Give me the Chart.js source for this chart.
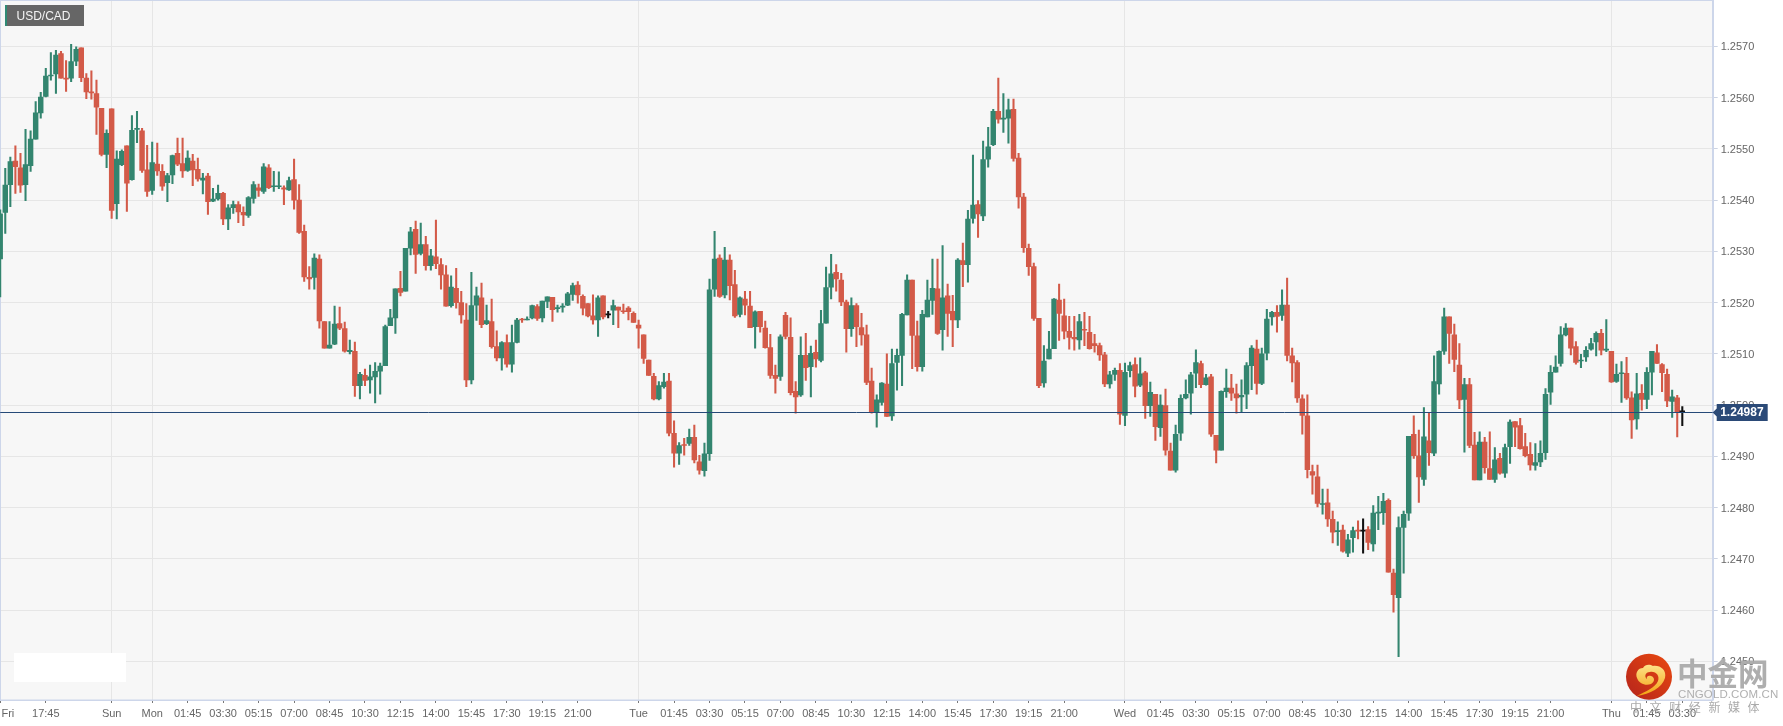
<!DOCTYPE html>
<html><head><meta charset="utf-8">
<script src="https://cdn.jsdelivr.net/npm/chart.js@4"></script>
<style>
html,body{margin:0;padding:0;background:#fff;overflow:hidden;width:1783px;height:726px}
#c{position:absolute;left:-20px;top:-20px}
.o{position:absolute;white-space:nowrap}
</style></head><body>
<canvas id="c" width="1803" height="746"></canvas>
<div class="o" style="left:5px;top:5px;width:79px;height:21px;background:#666;box-sizing:border-box;border-left:2px solid #2f8a74"></div>
<div class="o" style="left:16.5px;top:5px;line-height:23px;color:#f4f4f4;font:12px/23px 'Liberation Sans'">USD/CAD</div>
<div class="o" style="left:14px;top:653px;width:112px;height:29px;background:#fff"></div>
<svg class="o" style="left:1620px;top:645px" width="60" height="60" viewBox="1620 645 60 60">
<defs><linearGradient id="g1" x1="1" y1="0" x2="0" y2="1"><stop offset="0" stop-color="#ea4a10"/><stop offset="1" stop-color="#b4231c"/></linearGradient>
<linearGradient id="g2" x1="0" y1="0" x2="0" y2="1"><stop offset="0" stop-color="#fde48a"/><stop offset="1" stop-color="#f4a010"/></linearGradient></defs>
<circle cx="1649" cy="676.7" r="23" fill="url(#g1)"/>
<path d="M1637 696C1650 694 1662 688 1665 678C1667 670 1660 665 1653 666C1650 664 1645 664 1643 668C1638 668 1635 673 1637 678C1639 684 1646 686 1651 684C1655 682 1655 677 1651 676C1648 675 1646 677 1647 679C1644 677 1645 672 1650 672C1656 671 1660 676 1658 681C1655 688 1646 691 1637 696Z" fill="url(#g2)"/>
</svg>
<div class="o" style="left:1677px;top:652px;color:#aaa;font:bold 30.5px/40px 'Noto Sans CJK SC';opacity:.95">中金网</div>
<div class="o" style="left:1678px;top:688px;color:#b0b0b0;font:11.5px/12px 'Liberation Sans';letter-spacing:.1px">CNGOLD.COM.CN</div>
<div class="o" style="left:1630px;top:699px;color:#aaa;font:12px/16px 'Noto Sans CJK SC';letter-spacing:7.6px">中文财经新媒体</div>
<script>
const opens=[1.25285,1.25376,1.2543,1.25476,1.25463,1.2543,1.25467,1.25519,1.2557,1.25602,
1.25642,1.25646,1.25686,1.25638,1.25638,1.25671,1.25697,1.25638,1.25611,1.25608,
1.25579,1.25489,1.25578,1.25393,1.25469,1.25506,1.2544,1.25538,1.25535,1.25459,
1.25419,1.2547,1.25456,1.25434,1.25449,1.25491,1.25471,1.25458,1.25476,1.2546,
1.25439,1.25447,1.25398,1.25402,1.25413,1.25363,1.25385,1.25391,1.25376,1.2537,
1.25403,1.25424,1.25417,1.25463,1.25426,1.25426,1.25424,1.2542,1.2544,1.254,
1.25339,1.25249,1.25249,1.25285,1.25163,1.25111,1.25119,1.25159,1.25149,1.25104,
1.25105,1.25038,1.25058,1.25049,1.25055,1.25066,1.25077,1.25155,1.2517,1.25228,
1.25222,1.25306,1.25343,1.25296,1.25313,1.25272,1.25289,1.25274,1.25254,1.25194,
1.25228,1.252,1.25166,1.25049,1.25195,1.25209,1.25159,1.25163,1.25114,1.25092,
1.25122,1.2508,1.25122,1.25168,1.25166,1.2517,1.25192,1.2517,1.25202,1.2521,
1.25188,1.25191,1.25195,1.25216,1.25234,1.25212,1.25198,1.25174,1.25166,1.25213,
1.25176,1.25185,1.25191,1.25183,1.25189,1.25179,1.25156,1.25137,1.25088,1.25056,
1.25012,1.25036,1.25047,1.24945,1.24906,1.24923,1.24925,1.24937,1.24889,1.24872,
1.24905,1.25226,1.25287,1.25215,1.25283,1.25235,1.25177,1.25207,1.25193,1.25153,
1.25183,1.2515,1.25112,1.25058,1.25056,1.25175,1.25132,1.25027,1.2502,1.25097,
1.25075,1.25103,1.25087,1.2516,1.2523,1.25259,1.25244,1.25201,1.25149,1.25194,
1.25151,1.25137,1.25047,1.24986,1.25005,1.25041,1.24979,1.25083,1.25097,1.25176,
1.25244,1.25135,1.25075,1.25172,1.25204,1.25227,1.25147,1.25213,1.25183,1.25166,
1.25282,1.25274,1.25364,1.25391,1.25369,1.2548,1.25508,1.25573,1.25558,1.2556,
1.25577,1.25482,1.25406,1.25306,1.2527,1.25169,1.25043,1.2509,1.2511,1.25205,
1.25174,1.25144,1.25132,1.25127,1.25147,1.25142,1.2512,1.25116,1.25098,1.25041,
1.2506,1.25068,1.2498,1.25067,1.25079,1.25039,1.25063,1.24999,1.25021,1.24956,
1.24999,1.2491,1.24873,1.24945,1.25014,1.25023,1.25062,1.25081,1.2504,1.25055,
1.24941,1.24912,1.25026,1.25033,1.25022,1.25016,1.25021,1.25077,1.25109,1.25042,
1.25101,1.25172,1.25181,1.25175,1.25195,1.25096,1.25083,1.25012,1.24979,1.2487,
1.2486,1.24806,1.24809,1.24777,1.24753,1.24756,1.24711,1.24741,1.24756,1.24754,
1.24757,1.24729,1.24789,1.2479,1.24814,1.24672,1.24624,1.24761,1.24789,1.24943,
1.24901,1.24855,1.2493,1.24906,1.25041,1.25105,1.25172,1.25137,1.25078,1.25011,
1.2504,1.24922,1.24854,1.24928,1.24876,1.24855,1.24896,1.24867,1.24919,1.24968,
1.2496,1.24919,1.24904,1.24882,1.24889,1.24907,1.25025,1.25064,1.25081,1.25137,
1.2515,1.25114,1.25086,1.25094,1.25109,1.25123,1.2514,1.25107,1.25105,1.25046,
1.25061,1.25062,1.25014,1.24973,1.25023,1.25011,1.25064,1.25102,1.25079,1.2506,
1.25007,1.25014,1.24987];
const highs=[1.25381,1.25462,1.25484,1.25506,1.25491,1.25538,1.25535,1.25592,1.2561,1.25657,
1.25688,1.25692,1.2569,1.25672,1.25704,1.25699,1.25697,1.25647,1.25652,1.25634,
1.25579,1.25537,1.25578,1.25496,1.25498,1.25506,1.25565,1.25573,1.2554,1.25507,
1.25513,1.25511,1.25469,1.25452,1.25488,1.25521,1.25521,1.25496,1.25489,1.25482,
1.25452,1.25452,1.25423,1.25429,1.25415,1.25391,1.25398,1.25397,1.25387,1.25407,
1.25436,1.25431,1.25471,1.25469,1.25456,1.25455,1.25428,1.25445,1.2548,1.2543,
1.25351,1.2527,1.25295,1.25293,1.25163,1.25163,1.25193,1.25191,1.25162,1.25127,
1.25123,1.25064,1.2507,1.25078,1.25083,1.25082,1.25156,1.25187,1.25227,1.25261,
1.25306,1.25347,1.25359,1.25355,1.25329,1.25304,1.25361,1.25286,1.25272,1.25252,
1.25267,1.25222,1.25198,1.25259,1.2523,1.25238,1.25195,1.25207,1.25145,1.25124,
1.25137,1.25156,1.25169,1.25169,1.25172,1.25195,1.25196,1.25203,1.25211,1.2521,
1.25195,1.25198,1.2522,1.25238,1.25241,1.25215,1.25198,1.25215,1.25213,1.25213,
1.25183,1.25205,1.25191,1.25197,1.25192,1.25182,1.25166,1.25137,1.25088,1.25062,
1.25046,1.25062,1.25062,1.24969,1.24927,1.24935,1.24953,1.24961,1.24902,1.24926,
1.25246,1.25339,1.25293,1.25308,1.25293,1.25263,1.25211,1.25222,1.25222,1.25184,
1.25183,1.25164,1.25138,1.25078,1.25137,1.25181,1.2517,1.25046,1.25133,1.2514,
1.25115,1.25127,1.25185,1.25269,1.25294,1.25274,1.25257,1.25205,1.25209,1.25198,
1.25179,1.25156,1.25072,1.2502,1.25044,1.251,1.25109,1.25109,1.25179,1.25254,
1.25244,1.25164,1.25185,1.25244,1.25285,1.25285,1.25311,1.25236,1.25214,1.25286,
1.25316,1.2538,1.25488,1.25399,1.25515,1.25542,1.25577,1.25638,1.25608,1.25597,
1.25597,1.25491,1.25413,1.25314,1.25277,1.25169,1.25116,1.25144,1.25208,1.25236,
1.25207,1.25173,1.25173,1.25177,1.25181,1.25173,1.25138,1.25121,1.25103,1.25066,
1.25072,1.25081,1.25082,1.25084,1.25092,1.25092,1.25066,1.25045,1.25021,1.2502,
1.25031,1.24926,1.24961,1.2502,1.25049,1.25064,1.25108,1.25086,1.2506,1.2506,
1.24941,1.25028,1.2507,1.2506,1.25041,1.25049,1.25083,1.25116,1.25127,1.25111,
1.25187,1.25183,1.25194,1.25225,1.25248,1.25111,1.25087,1.2502,1.2502,1.24883,
1.24883,1.24836,1.24836,1.24793,1.24772,1.24766,1.24748,1.24762,1.24774,1.24778,
1.24763,1.24804,1.24822,1.24828,1.24817,1.2468,1.24782,1.24793,1.24939,1.24979,
1.24951,1.24995,1.24985,1.25096,1.25106,1.25189,1.25172,1.25158,1.2512,1.25052,
1.25052,1.24947,1.24948,1.24937,1.24948,1.24917,1.24906,1.24924,1.24971,1.24968,
1.24974,1.24945,1.24927,1.24925,1.2493,1.25032,1.25077,1.25096,1.25153,1.25159,
1.2515,1.25124,1.25099,1.25114,1.2513,1.25143,1.25148,1.25167,1.25105,1.2508,
1.25085,1.25093,1.25026,1.25062,1.2504,1.25073,1.25105,1.25118,1.25081,1.2507,
1.25029,1.25019,1.24997];
const lows=[1.25211,1.25335,1.25387,1.25413,1.25415,1.25399,1.25456,1.25519,1.2556,1.25601,
1.25634,1.25608,1.25638,1.25612,1.25631,1.25662,1.25631,1.25598,1.25597,1.25528,
1.25486,1.25463,1.25364,1.25363,1.25467,1.25378,1.25439,1.25512,1.25454,1.25407,
1.25411,1.25448,1.25419,1.25397,1.25432,1.25467,1.25444,1.25456,1.25428,1.25437,
1.25412,1.25372,1.25397,1.254,1.25352,1.25342,1.25374,1.25356,1.2535,1.25366,
1.25394,1.25407,1.25413,1.25422,1.25417,1.25422,1.25391,1.25419,1.25382,1.25335,
1.25241,1.25226,1.25226,1.2515,1.25111,1.25111,1.25118,1.25147,1.25103,1.251,
1.25017,1.25012,1.25038,1.25023,1.25004,1.25021,1.25077,1.25155,1.2514,1.25213,
1.25222,1.25293,1.25257,1.25293,1.25263,1.25263,1.25266,1.25226,1.25193,1.25191,
1.25189,1.2516,1.25036,1.25041,1.25165,1.25151,1.25157,1.25111,1.25086,1.25068,
1.25074,1.25064,1.25121,1.25161,1.25166,1.25168,1.25165,1.25162,1.2519,1.25163,
1.25181,1.25181,1.25194,1.25204,1.25199,1.25176,1.25172,1.25158,1.25134,1.25168,
1.2517,1.25157,1.25151,1.25179,1.25166,1.25161,1.25111,1.25081,1.25058,1.2501,
1.2501,1.25033,1.2494,1.24879,1.24884,1.24902,1.24921,1.24887,1.24865,1.24861,
1.24892,1.25212,1.2521,1.25209,1.25205,1.25171,1.25172,1.25176,1.25151,1.25111,
1.25142,1.25111,1.25052,1.25023,1.25048,1.25129,1.2502,1.24984,1.25017,1.25048,
1.25016,1.25074,1.25084,1.2516,1.25207,1.25222,1.25194,1.25103,1.25134,1.25114,
1.25117,1.2504,1.24984,1.24957,1.25,1.24978,1.2497,1.25029,1.25038,1.25176,
1.25071,1.25066,1.25066,1.25172,1.25177,1.25138,1.25107,1.25134,1.25114,1.25151,
1.25231,1.2524,1.25355,1.25327,1.2536,1.25464,1.25506,1.2555,1.25532,1.25511,
1.25476,1.25384,1.25298,1.25253,1.25165,1.25034,1.25035,1.2509,1.2511,1.25126,
1.25129,1.25109,1.25107,1.25109,1.25116,1.25109,1.25103,1.25087,1.25036,1.25033,
1.25048,1.24962,1.2496,1.25055,1.25016,1.25036,1.24974,1.24978,1.24931,1.24939,
1.24902,1.24873,1.24869,1.24931,1.25012,1.24982,1.25034,1.25034,1.25039,1.24939,
1.24887,1.24912,1.25015,1.25009,1.24984,1.24987,1.24993,1.2503,1.25021,1.2504,
1.25088,1.25156,1.25142,1.25165,1.25086,1.25045,1.25005,1.24943,1.24858,1.24826,
1.24801,1.24787,1.24763,1.24731,1.24726,1.24713,1.24704,1.24713,1.24739,1.24711,
1.24718,1.24715,1.24757,1.24767,1.24674,1.24596,1.24509,1.24672,1.24775,1.24896,
1.2481,1.24843,1.24882,1.24901,1.25021,1.25099,1.25081,1.25065,1.24993,1.24908,
1.24917,1.24854,1.24854,1.24867,1.24855,1.24849,1.24865,1.24859,1.24886,1.24919,
1.24914,1.24899,1.24873,1.24873,1.2488,1.24894,1.25001,1.25064,1.25076,1.25135,
1.25098,1.2508,1.25073,1.25085,1.25107,1.25096,1.25098,1.25104,1.25044,1.25044,
1.25005,1.25011,1.24935,1.24953,1.2499,1.24993,1.2502,1.25081,1.25026,1.24997,
1.24976,1.24938,1.2496];
const closes=[1.25373,1.25429,1.25475,1.25465,1.25429,1.25469,1.25519,1.2557,1.25601,1.25642,
1.25644,1.25683,1.25638,1.25636,1.2567,1.25694,1.25639,1.25611,1.25609,1.25581,
1.25489,1.2553,1.2538,1.2548,1.25495,1.25433,1.25536,1.25539,1.25458,1.25417,
1.25473,1.25457,1.25427,1.25448,1.25487,1.2547,1.25457,1.25482,1.25459,1.25441,
1.25443,1.25397,1.25402,1.25413,1.25363,1.25385,1.25391,1.25377,1.25371,1.25405,
1.2543,1.25419,1.25465,1.25424,1.25428,1.25428,1.25421,1.25438,1.254,1.25337,
1.2525,1.25246,1.25287,1.25164,1.25111,1.25117,1.25158,1.2515,1.25105,1.25107,
1.25038,1.2506,1.25048,1.25055,1.25066,1.25076,1.25153,1.2517,1.25227,1.2522,
1.25306,1.25338,1.25294,1.25313,1.25272,1.25291,1.25276,1.25254,1.25193,1.2523,
1.252,1.25176,1.25049,1.25194,1.25213,1.25157,1.25165,1.25114,1.25092,1.25122,
1.2508,1.25122,1.25166,1.25166,1.25168,1.25194,1.25169,1.25203,1.25211,1.25186,
1.2519,1.25193,1.25217,1.25233,1.25215,1.25189,1.25174,1.25166,1.25209,1.25172,
1.25176,1.25194,1.25185,1.25182,1.25182,1.25161,1.2515,1.25091,1.25058,1.25012,
1.25038,1.25045,1.24945,1.24906,1.24921,1.24921,1.24937,1.24893,1.24873,1.24905,
1.25225,1.25285,1.25212,1.25283,1.25233,1.25174,1.25209,1.25195,1.25151,1.25182,
1.25153,1.25112,1.25058,1.25052,1.25133,1.25134,1.25024,1.25016,1.25097,1.25073,
1.25101,1.2509,1.25159,1.25229,1.25256,1.25246,1.25201,1.25149,1.25194,1.25153,
1.25137,1.25044,1.24985,1.2501,1.25043,1.24978,1.25081,1.25097,1.25177,1.25244,
1.25136,1.25075,1.25177,1.25205,1.25228,1.2514,1.25209,1.25179,1.25166,1.25283,
1.25274,1.25363,1.2539,1.25373,1.25479,1.25504,1.25573,1.25558,1.25559,1.25576,
1.25481,1.25406,1.25307,1.2527,1.25169,1.25038,1.25086,1.25109,1.25207,1.25179,
1.25144,1.25132,1.25129,1.25163,1.25146,1.2511,1.25116,1.25098,1.25041,1.25059,
1.25068,1.24982,1.25064,1.25077,1.25037,1.25061,1.24999,1.25025,1.24958,1.25,
1.24912,1.24873,1.24943,1.25013,1.25021,1.25059,1.25083,1.2504,1.25053,1.24943,
1.24912,1.25027,1.25033,1.25023,1.25014,1.25019,1.25077,1.25111,1.25042,1.251,
1.25168,1.25181,1.25173,1.25195,1.25097,1.25082,1.25014,1.2498,1.24874,1.24863,
1.24808,1.24807,1.24778,1.24752,1.24755,1.24715,1.24737,1.24755,1.24754,1.24754,
1.24732,1.24789,1.2479,1.24812,1.24674,1.2463,1.24761,1.24787,1.24939,1.24901,
1.2486,1.24938,1.24907,1.25046,1.25105,1.25172,1.2514,1.25089,1.2501,1.2504,
1.24921,1.24854,1.24928,1.24878,1.24855,1.24893,1.24867,1.24917,1.24967,1.24957,
1.24915,1.24901,1.24883,1.24888,1.24906,1.25021,1.25064,1.25074,1.25137,1.2515,
1.25111,1.25083,1.25088,1.25107,1.2512,1.2514,1.25107,1.25109,1.25045,1.2506,
1.25062,1.25014,1.24971,1.25022,1.25011,1.25064,1.25105,1.25081,1.25063,1.25008,
1.25016,1.24985,1.24987];
const tickSlots=[0,9,22,30,37,44,51,58,65,72,79,86,93,100,107,114,126,133,140,147,154,161,168,175,182,189,196,203,210,222,229,236,243,250,257,264,271,278,285,292,299,306,318,325,332];
const tickLabels=['\u00a0\u00a0\u00a0\u00a0\u00a0Fri','17:45','Sun','Mon','01:45','03:30','05:15','07:00','08:45','10:30','12:15','14:00','15:45','17:30','19:15','21:00','Tue','01:45','03:30','05:15','07:00','08:45','10:30','12:15','14:00','15:45','17:30','19:15','21:00','Wed','01:45','03:30','05:15','07:00','08:45','10:30','12:15','14:00','15:45','17:30','19:15','21:00','Thu','01:45','03:30'];
const dayLabels=['Sun','Mon','Tue','Wed','Thu'];
const lastPrice=1.24987;
const slots=Array.from({length:339},(_,i)=>i);
const GREEN='#33856f',RED='#d35a48',BLACK='#111';
const col=ctx=>{const i=ctx.dataIndex;return closes[i]>opens[i]?GREEN:closes[i]<opens[i]?RED:BLACK;};
const frame={id:'frame',
 beforeDraw(c){const a=c.chartArea,x=c.ctx;x.save();x.fillStyle='#f7f7f7';x.fillRect(a.left,a.top,a.width,a.height);x.restore();},
 beforeDatasetsDraw(c){const a=c.chartArea,x=c.ctx;x.save();x.strokeStyle='#cdd6ea';x.lineWidth=1;x.strokeRect(Math.floor(a.left)+.5,Math.floor(a.top)-.5,Math.round(a.width),Math.round(a.height)+.5);x.restore();},
 afterDraw(c){const a=c.chartArea,x=c.ctx,y=Math.round(c.scales.y.getPixelForValue(lastPrice))+.5;x.save();
  x.lineWidth=1;x.strokeStyle='#264a78';x.beginPath();x.moveTo(a.left,y);x.lineTo(a.right,y);x.stroke();
  const L=a.right;x.fillStyle='#2b4a77';x.beginPath();x.moveTo(L,y);x.lineTo(L+4,y-4);x.lineTo(L+4,y-8.5);x.lineTo(L+55,y-8.5);x.lineTo(L+55,y+8.5);x.lineTo(L+4,y+8.5);x.lineTo(L+4,y+4);x.closePath();x.fill();
  x.fillStyle='#fff';x.font="bold 12px 'Liberation Sans'";x.textBaseline='middle';x.textAlign='left';x.fillText(lastPrice.toFixed(5),L+7.5,y+.5);x.restore();}};
new Chart(document.getElementById('c'),{type:'bar',plugins:[frame],
 data:{labels:slots,datasets:[
  {data:lows.map((l,i)=>[l,highs[i]]),backgroundColor:col,barThickness:1.4,grouped:false,order:2,borderWidth:0,clip:3},
  {data:opens.map((o,i)=>[o,closes[i]]),backgroundColor:col,barThickness:4.8,grouped:false,order:1,borderWidth:0,minBarLength:1,clip:3}]},
 options:{responsive:false,animation:false,devicePixelRatio:1,
  layout:{padding:{left:20.2,top:21,right:0,bottom:0}},
  plugins:{legend:{display:false},tooltip:{enabled:false}},
  scales:{
   x:{type:'category',offset:false,
    afterBuildTicks(s){s.ticks=tickSlots.map(v=>({value:v}));},
    afterFit(s){s.height=26;},
    grid:{offset:false,color:c=>c.tick&&dayLabels.includes(tickLabels[tickSlots.indexOf(c.tick.value)])?'#e6e6e6':'rgba(0,0,0,0)',tickColor:'#777',tickLength:3,drawTicks:true},
    border:{color:'#cdd6ea'},
    ticks:{autoSkip:false,maxRotation:0,minRotation:0,padding:4,color:'#666',font:{family:"'Liberation Sans'",size:11},callback:v=>tickLabels[tickSlots.indexOf(v)]}},
   y:{type:'linear',position:'right',min:1.244245,max:1.257884,
    afterFit(s){s.width=70.3;},
    grid:{color:'#e6e6e6',tickColor:'#ccd3e2',tickLength:5},
    border:{color:'#cdd6ea'},
    ticks:{stepSize:0.001,includeBounds:false,padding:3,labelOffset:1,color:'#666',font:{family:"'Liberation Sans'",size:11},callback:v=>v.toFixed(4)}}
  }}});
</script>
</body></html>
